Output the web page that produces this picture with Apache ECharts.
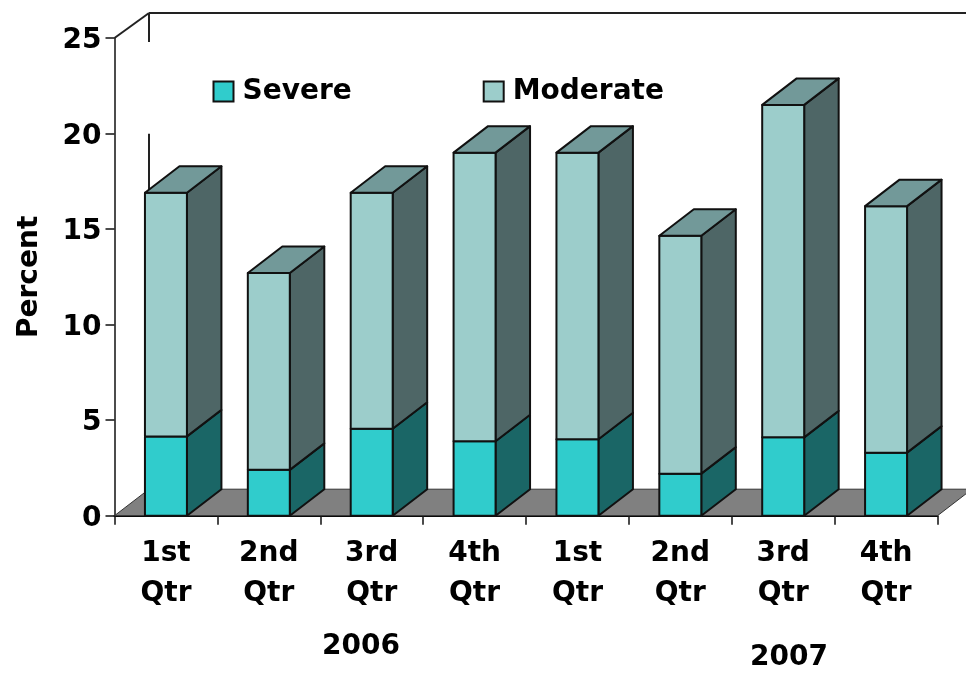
<!DOCTYPE html>
<html><head><meta charset="utf-8">
<style>html,body{margin:0;padding:0;background:#fff}#c{width:966px;height:673px}</style>
<script src="https://cdn.jsdelivr.net/npm/echarts@6/dist/echarts.min.js"></script>
</head><body><div id="c"></div>
<script>
const categories = ['1st\nQtr','2nd\nQtr','3rd\nQtr','4th\nQtr','1st\nQtr','2nd\nQtr','3rd\nQtr','4th\nQtr'];
const severe = [4.15, 2.4, 4.55, 3.9, 4.0, 2.2, 4.1, 3.3];
const moderate = [12.75, 10.3, 12.35, 15.1, 15.0, 12.45, 17.4, 12.9];
const yTicks = {min: 0, max: 25, interval: 5};
const years = ['2006', '2007'];
const FONT = '"DejaVu Sans", Verdana, sans-serif';
const DX = 34.5, DY = 26.5, WALL_DY = 25, BAR = 0.408;
const LINE = '#111';

function face(points, fill) {
  return {type: 'polygon', shape: {points}, style: {fill, stroke: LINE, lineWidth: 2, lineJoin: 'round'}};
}
function barRender(front, side, top, drawTop) {
  return function (params, api) {
    const i = api.value(0), lo = api.value(1), hi = api.value(2);
    const a = api.coord([i, lo]), b = api.coord([i, hi]);
    const w = api.size([1, 0])[0] * BAR;
    const l = a[0] - w / 2, r = a[0] + w / 2;
    const children = [
      face([[r, a[1]], [r + DX, a[1] - DY], [r + DX, b[1] - DY], [r, b[1]]], side),
      face([[l, a[1]], [r, a[1]], [r, b[1]], [l, b[1]]], front)
    ];
    if (drawTop) children.push(face([[l, b[1]], [r, b[1]], [r + DX, b[1] - DY], [l + DX, b[1] - DY]], top));
    return {type: 'group', children};
  };
}
const severeData = severe.map((v, i) => [i, 0, v]);
const moderateData = moderate.map((v, i) => [i, severe[i], severe[i] + v]);
const wallSegments = [[25, 23.4], [18.6, 0]];

const option = {
  animation: false,
  backgroundColor: '#fff',
  grid: {left: 114.5, right: 28.5, top: 38, bottom: 157.3, outerBoundsMode: 'none'},
  legend: {
    left: 212.5, top: 77.5, itemWidth: 20, itemHeight: 20, itemGap: 131, padding: 0,
    icon: 'rect', selectedMode: false,
    data: [
      {name: 'Severe', itemStyle: {color: '#30CCCC', borderColor: LINE, borderWidth: 2}},
      {name: 'Moderate', itemStyle: {color: '#9CCDCB', borderColor: LINE, borderWidth: 2}}
    ],
    textStyle: {fontFamily: FONT, fontWeight: 'bold', fontSize: 28, color: '#000', padding: [9, 0, 0, 4]}
  },
  xAxis: {
    type: 'category', data: categories,
    axisLine: {lineStyle: {color: '#000', width: 2}},
    axisTick: {show: true, alignWithLabel: false, length: 9, lineStyle: {color: '#111', width: 1.5}},
    axisLabel: {interval: 0, margin: 18, fontFamily: FONT, fontWeight: 'bold', fontSize: 28, lineHeight: 40, color: '#000'}
  },
  yAxis: {
    type: 'value', ...yTicks,
    name: 'Percent', nameLocation: 'middle', nameGap: 71, nameRotate: 90,
    nameTextStyle: {fontFamily: FONT, fontWeight: 'bold', fontSize: 28, color: '#000'},
    splitLine: {show: false},
    axisLine: {show: true, lineStyle: {color: '#111', width: 1.5}},
    axisTick: {show: true, length: 9, lineStyle: {color: '#111', width: 1.5}},
    axisLabel: {margin: 13, formatter: '{a|{value}}',
      rich: {a: {padding: [6, 0, 0, 0], fontFamily: FONT, fontWeight: 'bold', fontSize: 28, color: '#000'}}}
  },
  graphic: [
    {type: 'text', x: 361, y: 647, style: {text: years[0], align: 'center', verticalAlign: 'middle', font: 'bold 28px ' + FONT, fill: '#000'}},
    {type: 'text', x: 789, y: 658, style: {text: years[1], align: 'center', verticalAlign: 'middle', font: 'bold 28px ' + FONT, fill: '#000'}}
  ],
  series: [
    {
      type: 'custom', name: 'wall', z: 1, silent: true, data: [[0]],
      renderItem(params, api) {
        const half = api.size([1, 0])[0] / 2;
        const x0 = api.coord([0, 0])[0] - half;
        const xN = api.coord([categories.length - 1, 0])[0] + half;
        const y0 = api.coord([0, 0])[1], yT = api.coord([0, yTicks.max])[1];
        const ln = (x1, y1, x2, y2) => ({type: 'line', shape: {x1, y1, x2, y2}, style: {stroke: '#222', lineWidth: 2}});
        const ch = [
          {type: 'polygon', shape: {points: [[x0, y0], [x0 + DX, y0 - DY], [xN + DX, y0 - DY], [xN, y0]]},
           style: {fill: '#808080', stroke: '#333', lineWidth: 1}},
          ln(x0, yT, x0 + DX, yT - WALL_DY),
          ln(x0 + DX, yT - WALL_DY, 980, yT - WALL_DY)
        ];
        wallSegments.forEach(s => ch.push(ln(x0 + DX, Math.max(api.coord([0, s[0]])[1] - DY, yT - WALL_DY), x0 + DX, api.coord([0, s[1]])[1] - DY)));
        return {type: 'group', children: ch};
      }
    },
    {type: 'custom', name: 'Severe', z: 3, silent: true, itemStyle: {color: '#30CCCC'},
     encode: {x: 0, y: 2}, data: severeData, renderItem: barRender('#30CCCC', '#1A6666', '#30CCCC', false)},
    {type: 'custom', name: 'Moderate', z: 3, silent: true, itemStyle: {color: '#9CCDCB'},
     encode: {x: 0, y: 2}, data: moderateData, renderItem: barRender('#9CCDCB', '#4E6666', '#729999', true)}
  ]
};
echarts.init(document.getElementById('c'), null, {renderer: 'canvas'}).setOption(option);
</script></body></html>
